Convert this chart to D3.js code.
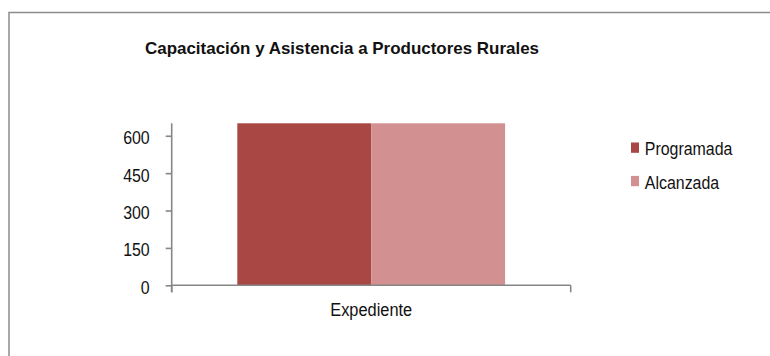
<!DOCTYPE html>
<html><head><meta charset="utf-8">
<script src="https://cdn.jsdelivr.net/npm/d3@7"></script>
<style>body{margin:0;background:#fff}svg{display:block}</style>
</head><body>
<script>
const categories = ["Expediente"];
const seriesNames = ["Programada", "Alcanzada"];
const programada = [650];
const alcanzada = [650];
const yTicks = [0, 150, 300, 450, 600];
const yMax = 650;
const title = "Capacitación y Asistencia a Productores Rurales";
const colors = ["#A94745", "#D39090"];

(function () {
const W = 770, H = 356;
const svg = d3.select("body").append("svg").attr("width", W).attr("height", H);
const font = "'Liberation Sans', Arial, sans-serif";
const condense = 0.91;
function squeeze(sel) {
  sel.each(function () {
    const w = this.getComputedTextLength();
    d3.select(this).attr("textLength", w * condense).attr("lengthAdjust", "spacingAndGlyphs");
  });
}

// outer border
svg.append("rect").attr("x", 9).attr("y", 12.5).attr("width", 800).attr("height", 400)
  .attr("fill", "none").attr("stroke", "#8c8c8c").attr("stroke-width", 1.5);

// title
svg.append("text").attr("x", 145).attr("y", 53.5).text(title)
  .attr("font-family", font).attr("font-weight", "bold").attr("font-size", 17)
  .attr("fill", "#111").attr("textLength", 394).attr("lengthAdjust", "spacingAndGlyphs");

const pLeft = 171.7, pRight = 570.7, pTop = 123.3, pBottom = 285.3;
const x = d3.scaleBand().domain(categories).range([pLeft, pRight]).paddingInner(0).paddingOuter(0);
const x1 = d3.scaleBand().domain(seriesNames).range([0, x.bandwidth()]).paddingOuter(0.49).paddingInner(0);
const y = d3.scaleLinear().domain([0, yMax]).range([pBottom, pTop]);

const data = categories.map((c, i) => ({cat: c, vals: [programada[i], alcanzada[i]]}));
const g = svg.append("g");
data.forEach(d => {
  d.vals.forEach((v, j) => {
    g.append("rect")
      .attr("x", x(d.cat) + x1(seriesNames[j]))
      .attr("width", x1.bandwidth())
      .attr("y", y(Math.min(v, yMax)))
      .attr("height", y(0) - y(Math.min(v, yMax)))
      .attr("fill", colors[j]);
  });
});

const axisColor = "#868686";
// y axis
const yAxis = svg.append("g").attr("transform", `translate(${pLeft},0)`)
  .call(d3.axisLeft(y).tickValues(yTicks).tickSize(6).tickPadding(16).tickSizeOuter(0));
yAxis.select(".domain").remove();
yAxis.append("line").attr("x1", 0).attr("x2", 0).attr("y1", pTop).attr("y2", pBottom + 7)
  .attr("stroke", axisColor).attr("stroke-width", 1.6);
yAxis.selectAll(".tick line").attr("stroke", axisColor).attr("stroke-width", 1.6);
yAxis.selectAll(".tick text").attr("font-family", font).attr("font-size", 17.5)
  .attr("fill", "#111").attr("dy", null).attr("y", 8).call(squeeze);

// x axis
const xAxis = svg.append("g").attr("transform", `translate(0,${pBottom})`)
  .call(d3.axisBottom(x).tickSize(0).tickPadding(0));
xAxis.select(".domain").remove();
xAxis.append("line").attr("x1", pLeft).attr("x2", pRight).attr("y1", 0).attr("y2", 0)
  .attr("stroke", axisColor).attr("stroke-width", 1.6);
[pLeft, pRight].forEach(px => xAxis.append("line").attr("x1", px).attr("x2", px)
  .attr("y1", 0).attr("y2", 7).attr("stroke", axisColor).attr("stroke-width", 1.6));
xAxis.selectAll(".tick text").attr("font-family", font).attr("font-size", 18)
  .attr("fill", "#111").attr("dy", null).attr("y", 30.5).call(squeeze);

// legend
const legend = svg.append("g");
seriesNames.forEach((s, i) => {
  const ly = 142.5 + i * 33.4;
  legend.append("rect").attr("x", 631).attr("y", ly).attr("width", 8).attr("height", 10.3).attr("fill", colors[i]);
  legend.append("text").attr("x", 644.8).attr("y", ly + 12.6).text(s)
    .attr("font-family", font).attr("font-size", 17.5).attr("fill", "#111").call(squeeze);
});
})();
</script>
</body></html>
